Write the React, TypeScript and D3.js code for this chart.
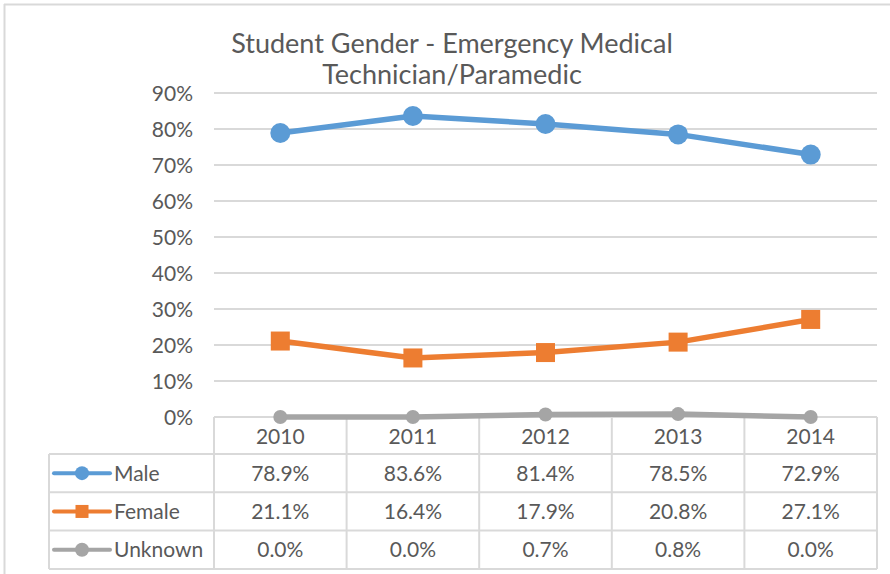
import React from 'react';
import * as d3 from 'd3';

const years = ['2010', '2011', '2012', '2013', '2014'];
const seriesNames = ['Male', 'Female', 'Unknown'];
const male = [0.789, 0.836, 0.814, 0.785, 0.729];
const female = [0.211, 0.164, 0.179, 0.208, 0.271];
const unknown = [0.0, 0.0, 0.007, 0.008, 0.0];
const yTicks = [0, 0.1, 0.2, 0.3, 0.4, 0.5, 0.6, 0.7, 0.8, 0.9];
const titleLines = ['Student Gender - Emergency Medical', 'Technician/Paramedic'];

const seriesValues = [male, female, unknown];
const colors = ['#5B9BD5', '#ED7D31', '#A5A5A5'];
const markers = ['circle', 'square', 'circle'];

const W = 890;
const H = 574;
const font = 'Lato, "Open Sans", sans-serif';
const textColor = '#595959';
const gridColor = '#D9D9D9';

function Marker(props: { kind: string; x: number; y: number; size: number; color: string }) {
  const { kind, x, y, size, color } = props;
  if (kind === 'square') {
    return <rect x={x - size} y={y - size} width={size * 2} height={size * 2} fill={color} />;
  }
  return <circle cx={x} cy={y} r={size} fill={color} />;
}

export default function App() {
  const x = d3.scaleBand().domain(years).range([214, 877]).padding(0);
  const y = d3.scaleLinear().domain([0, 0.9]).range([417, 93]);
  const fmt = d3.format('.1%');
  const tickFmt = d3.format('.0%');

  const line = d3
    .line<number>()
    .x((d, i) => (x(years[i]) as number) + x.bandwidth() / 2)
    .y(d => y(d));

  const tableLeft = 49;
  const rowTop = 454;
  const rowH = 38.3;
  const colEdges = years.map(yr => x(yr) as number).concat([877]);

  return (
    <svg width={W} height={H} style={{ position: 'absolute', left: 0, top: 0 }}>
      <rect x={0} y={0} width={W} height={H} fill="#fff" />
      {/* chart frame */}
      <line x1={4} y1={4.5} x2={W} y2={4.5} stroke={gridColor} strokeWidth={2} />
      <line x1={4.5} y1={4} x2={4.5} y2={H} stroke={gridColor} strokeWidth={2} />

      {/* title */}
      <g fill={textColor} fontFamily={font} fontSize={27} textAnchor="middle">
        {titleLines.map((t, i) => (
          <text key={t} x={452} y={53 + i * 31}>
            {t}
          </text>
        ))}
      </g>

      {/* gridlines + y labels */}
      {yTicks.map(t => (
        <g key={t}>
          <line x1={214} x2={877} y1={y(t)} y2={y(t)} stroke={gridColor} strokeWidth={2} />
          <text
            x={193}
            y={y(t)}
            dy="0.36em"
            textAnchor="end"
            fill={textColor}
            fontFamily={font}
            fontSize={21}
          >
            {tickFmt(t)}
          </text>
        </g>
      ))}

      {/* data table grid */}
      {colEdges.map((cx, i) => (
        <line key={'v' + i} x1={cx} x2={cx} y1={417} y2={rowTop + rowH * 3} stroke={gridColor} strokeWidth={2} />
      ))}
      <line x1={tableLeft} x2={tableLeft} y1={rowTop} y2={rowTop + rowH * 3} stroke={gridColor} strokeWidth={2} />
      {[0, 1, 2, 3].map(r => (
        <line
          key={'h' + r}
          x1={tableLeft}
          x2={877}
          y1={rowTop + r * rowH}
          y2={rowTop + r * rowH}
          stroke={gridColor}
          strokeWidth={2}
        />
      ))}

      {/* year headers */}
      {years.map(yr => (
        <text
          key={yr}
          x={(x(yr) as number) + x.bandwidth() / 2}
          y={436}
          dy="0.36em"
          textAnchor="middle"
          fill={textColor}
          fontFamily={font}
          fontSize={21}
        >
          {yr}
        </text>
      ))}

      {/* rows */}
      {seriesNames.map((name, si) => {
        const cy = rowTop + si * rowH + rowH / 2;
        return (
          <g key={name}>
            <line x1={54} x2={110} y1={cy} y2={cy} stroke={colors[si]} strokeWidth={4} strokeLinecap="round" />
            <Marker kind={markers[si]} x={82} y={cy} size={markers[si] === 'square' ? 6.5 : 7} color={colors[si]} />
            <text x={114} y={cy} dy="0.36em" fill={textColor} fontFamily={font} fontSize={21}>
              {name}
            </text>
            {seriesValues[si].map((v, i) => (
              <text
                key={i}
                x={(x(years[i]) as number) + x.bandwidth() / 2}
                y={cy}
                dy="0.36em"
                textAnchor="middle"
                fill={textColor}
                fontFamily={font}
                fontSize={21}
              >
                {fmt(v)}
              </text>
            ))}
          </g>
        );
      })}

      {/* series lines */}
      {seriesValues.map((vals, si) => (
        <g key={'s' + si}>
          <path d={line(vals) || ''} fill="none" stroke={colors[si]} strokeWidth={5.5} strokeLinejoin="round" />
          {vals.map((v, i) => (
            <Marker
              key={i}
              kind={markers[si]}
              x={(x(years[i]) as number) + x.bandwidth() / 2}
              y={y(v)}
              size={si === 0 ? 10 : si === 1 ? 9.5 : 7}
              color={colors[si]}
            />
          ))}
        </g>
      ))}
    </svg>
  );
}
